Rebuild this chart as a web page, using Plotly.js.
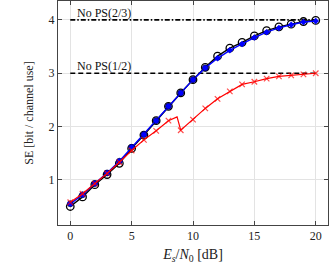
<!DOCTYPE html>
<html><head><meta charset="utf-8">
<script src="https://cdn.plot.ly/plotly-3.0.1.min.js"></script>
<style>body{margin:0;padding:0;background:#fff}#chart{width:329px;height:266px}</style>
</head><body><div id="chart"></div>
<script>
const snrInt = [0,1,2,3,4,5,6,7,8,9,10,11,12,13,14,15,16,17,18,19,20];
const blackSE = [0.50,0.68,0.91,1.10,1.31,1.59,1.84,2.11,2.38,2.63,2.88,3.11,3.32,3.47,3.58,3.70,3.80,3.87,3.92,3.97,3.99];
const blueSE  = [0.55,0.72,0.93,1.13,1.35,1.61,1.85,2.11,2.38,2.63,2.88,3.10,3.28,3.43,3.55,3.67,3.77,3.85,3.91,3.96,3.98];
const blueCircX = [0,1,2,3,4,5,6,7,8,9,10,11];
const blueCircSE = [0.55,0.72,0.93,1.13,1.35,1.61,1.85,2.11,2.38,2.63,2.88,3.10];
const redX  = [0,1,2,3,4,5,6,7,8,8.7,9,10,11,12,13,14,15,16,17,18,19,20];
const redSE = [0.58,0.74,0.93,1.12,1.33,1.55,1.75,1.92,2.11,2.18,1.93,2.13,2.34,2.52,2.66,2.79,2.84,2.90,2.94,2.96,2.98,3.00];
const refX = [0,20];
const ref23 = [4,4];
const ref12 = [3,3];
const labels = ['No PS(2/3)','No PS(1/2)'];

const redSizes = redX.map(v => (v===8.7 ? 0 : 5.5));

const traces = [
  {x:refX,y:ref23,mode:'lines',line:{color:'#000',width:1.6,dash:'5px,2px,1.5px,2px'},hoverinfo:'skip'},
  {x:refX,y:ref12,mode:'lines',line:{color:'#000',width:1.6,dash:'5px,3px'},hoverinfo:'skip'},
  {x:snrInt,y:blackSE,mode:'lines+markers',line:{color:'#000',width:1.4},
   marker:{symbol:'circle-open',size:7.5,color:'#000',line:{width:1.3}}},
  {x:snrInt,y:blueSE,mode:'lines+markers',line:{color:'#0000ff',width:1.4},
   marker:{symbol:'diamond',size:5,color:'#0000ff'}},
  {x:blueCircX,y:blueCircSE,mode:'markers',
   marker:{symbol:'circle',size:6,color:'#0000ff',line:{color:'#000044',width:0.6}}},
  {x:redX,y:redSE,mode:'lines+markers',line:{color:'#ff0000',width:1.2},
   marker:{symbol:'x-thin-open',size:redSizes,color:'#ff0000',line:{color:'#ff0000',width:1.2}}}
];

const font = {family:'Liberation Serif, DejaVu Serif, serif',size:12,color:'#222'};
const layout = {
  width:329,height:266,
  margin:{l:58,r:1,t:1,b:41},
  showlegend:false,
  paper_bgcolor:'#fff',plot_bgcolor:'#fff',
  font:font,
  xaxis:{range:[-1,21],tickvals:[0,5,10,15,20],ticks:'inside',ticklen:4,tickcolor:'#444',
    showline:true,linecolor:'#444',linewidth:1,mirror:'ticks',
    showgrid:true,gridcolor:'#e3e3e3',gridwidth:1,zeroline:false,
    tickfont:{family:font.family,size:12,color:'#222'},
    title:{text:'<i>E<sub>s</sub></i>/<i>N</i><sub>0</sub> [dB]',font:{family:font.family,size:14,color:'#222'},standoff:6}},
  yaxis:{range:[0.153,4.355],tickvals:[1,2,3,4],ticks:'inside',ticklen:4,tickcolor:'#444',
    showline:true,linecolor:'#444',linewidth:1,mirror:'ticks',
    showgrid:true,gridcolor:'#e3e3e3',gridwidth:1,zeroline:false,
    tickfont:{family:font.family,size:12,color:'#222'},
    title:{text:'SE [bit / channel use]',font:{family:font.family,size:12,color:'#222'},standoff:12}},
  annotations:[
    {x:0.4,y:4,xref:'x',yref:'y',text:labels[0],showarrow:false,xanchor:'left',yanchor:'bottom',yshift:-2,font:{family:font.family,size:12,color:'#111'}},
    {x:0.4,y:3,xref:'x',yref:'y',text:labels[1],showarrow:false,xanchor:'left',yanchor:'bottom',yshift:-2,font:{family:font.family,size:12,color:'#111'}}
  ]
};
Plotly.newPlot('chart',traces,layout,{staticPlot:true,displayModeBar:false});
</script></body></html>
